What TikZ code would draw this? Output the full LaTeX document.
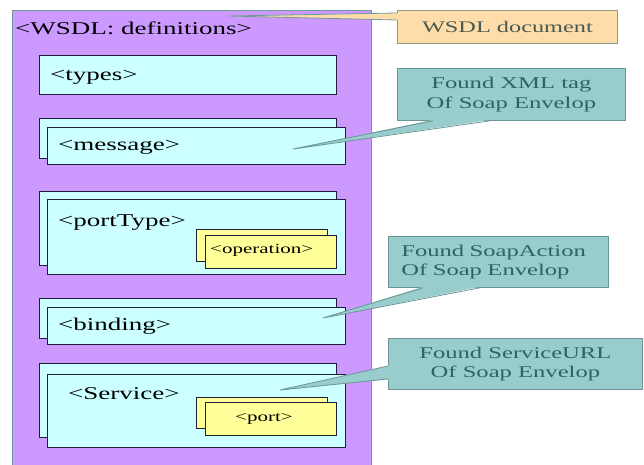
\documentclass[tikz,border=0pt]{standalone}
\usepackage{fontspec}
\setmainfont[FakeStretch=1.5]{Liberation Serif}
\usetikzlibrary{positioning}
\definecolor{wsviolet}{HTML}{CC99FF}
\definecolor{wsframe}{HTML}{6F9A9A}
\definecolor{wscyan}{HTML}{CCFFFF}
\definecolor{wsdark}{HTML}{1E1E38}
\definecolor{wsyellow}{HTML}{FFFF99}
\definecolor{wsnote}{HTML}{99CCCC}
\definecolor{wsnoteline}{HTML}{6A9696}
\definecolor{wsnotetext}{HTML}{2F6262}
\definecolor{wspeach}{HTML}{FFDDAA}
\definecolor{wspeachline}{HTML}{8E9A8A}
\definecolor{wspeachtext}{HTML}{4A5A50}

\begin{document}
\begin{tikzpicture}[
  x=1pt, y=-1pt,
  frame/.style={draw=wsframe, fill=wsviolet, line width=1pt, anchor=north west, inner sep=0pt},
  part/.style={draw=wsdark, fill=wscyan, line width=0.9pt, anchor=north west, inner sep=0pt},
  subpart/.style={draw=wsdark, fill=wsyellow, line width=0.9pt, anchor=north west, inner sep=0pt},
  tag/.style={anchor=base west, inner sep=0pt, font=\fontsize{18}{21}\selectfont},
  smalltag/.style={anchor=base west, inner sep=0pt, font=\fontsize{14}{16}\selectfont},
  note/.style={draw=wsnoteline, fill=wsnote, line width=0.8pt, anchor=north west,
    inner sep=0pt, align=center, text=wsnotetext, font=\fontsize{16.4}{19.5}\selectfont},
  docnote/.style={note, draw=wspeachline, fill=wspeach, text=wspeachtext,
    font=\fontsize{16.2}{19}\selectfont},
  wedge/.style={draw=wsnoteline, line width=0.8pt, line join=round}
]
\useasboundingbox (0,0) rectangle (644,464);

% WSDL container
\node[frame, minimum width=359, minimum height=460] (defs) at (12,10) {};
\node[tag] (defstag) at (15,34) {<WSDL: definitions>};

% parts of the document
\node[part, minimum width=297, minimum height=39] (types) at (39,55) {};
\node[tag] (typestag) at (50,80) {<types>};

\node[part, minimum width=297, minimum height=40] (msgback) at (39,118) {};
\node[part, minimum width=298, minimum height=37] (msg) at (47,127) {};
\node[tag] (msgtag) at (58,150) {<message>};

\node[part, minimum width=297, minimum height=74] (ptback) at (39,191) {};
\node[part, minimum width=298, minimum height=75] (pt) at (47,199) {};
\node[tag] (pttag) at (58,226) {<portType>};
\node[subpart, minimum width=131, minimum height=32] (opback) at (196,229) {};
\node[subpart, minimum width=131, minimum height=33] (op) at (205,235) {};
\node[smalltag] (optag) at (210,253) {<operation>};

\node[part, minimum width=297, minimum height=40] (bindback) at (39,298) {};
\node[part, minimum width=298, minimum height=37] (bind) at (47,307) {};
\node[tag] (bindtag) at (58,330) {<binding>};

\node[part, minimum width=297, minimum height=74] (svcback) at (39,363) {};
\node[part, minimum width=298, minimum height=73] (svc) at (47,374) {};
\node[tag] (svctag) at (68,399) {<Service>};
\node[subpart, minimum width=131, minimum height=31] (portback) at (196,397) {};
\node[subpart, minimum width=131, minimum height=33] (port) at (205,402) {};
\node[smalltag] (porttag) at (235,421) {<port>};

% callouts
\coordinate (doctip) at (228,16);
\coordinate (xmltip) at (293,149);
\coordinate (acttip) at (323,318);
\coordinate (urltip) at (280,390);

\node[docnote, minimum width=220, minimum height=33] (doc) at (397,10) {WSDL document};
\fill[wspeach] ([xshift=1pt,yshift=-3pt]doc.north west) -- (doctip) -- ([xshift=1pt,yshift=-10pt]doc.north west) -- cycle;
\draw[wedge, draw=wsframe] ([yshift=-3pt]doc.north west) -- (doctip) -- ([yshift=-10pt]doc.north west);

\node[note, minimum width=228, minimum height=52] (xml) at (397,68) {Found XML tag\\Of Soap Envelop};
\fill[wsnote] ([xshift=36pt,yshift=1pt]xml.south west) -- (xmltip) -- ([xshift=93pt,yshift=1pt]xml.south west) -- cycle;
\draw[wedge] ([xshift=36pt]xml.south west) -- (xmltip) -- ([xshift=93pt]xml.south west);

\node[note, minimum height=51, text width=194, inner xsep=13pt, align=left] (act) at (388,236) {Found SoapAction\\Of Soap Envelop};
\fill[wsnote] ([xshift=35pt,yshift=1pt]act.south west) -- (acttip) -- ([xshift=92pt,yshift=1pt]act.south west) -- cycle;
\draw[wedge] ([xshift=35pt]act.south west) -- (acttip) -- ([xshift=92pt]act.south west);

\node[note, minimum width=254, minimum height=51] (url) at (388,338) {Found ServiceURL\\Of Soap Envelop};
\fill[wsnote] ([xshift=1pt,yshift=-28pt]url.north west) -- (urltip) -- ([xshift=1pt,yshift=-41pt]url.north west) -- cycle;
\draw[wedge] ([yshift=-28pt]url.north west) -- (urltip) -- ([yshift=-41pt]url.north west);
\end{tikzpicture}
\end{document}
